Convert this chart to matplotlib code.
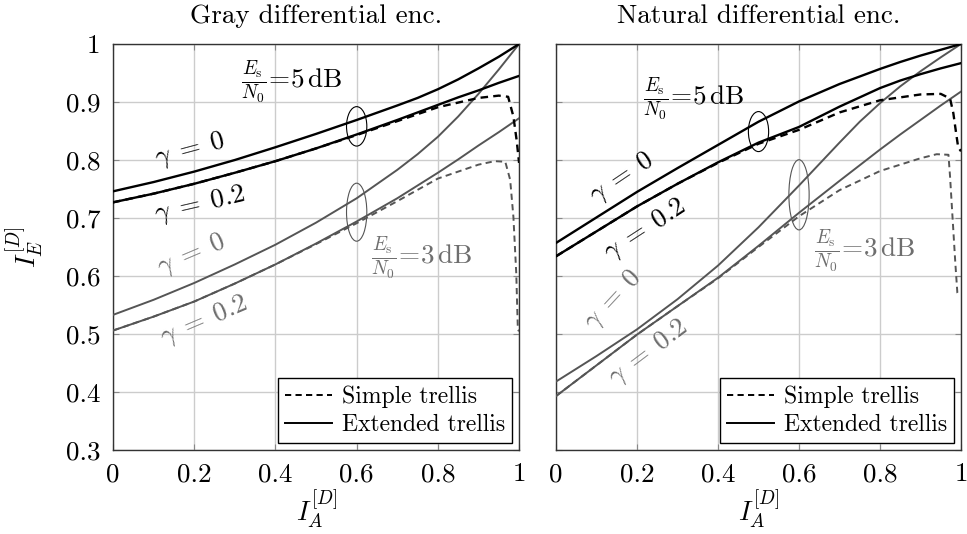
import matplotlib
matplotlib.use("Agg")
import matplotlib.pyplot as plt
from matplotlib.lines import Line2D
from matplotlib.patches import Ellipse

plt.rcParams['font.family'] = 'serif'
plt.rcParams['font.serif'] = ['cmr10']
plt.rcParams['mathtext.fontset'] = 'cm'
plt.rcParams['axes.formatter.use_mathtext'] = True

# EXIT curves, x = I_A
x_ext = [0.0, 0.1, 0.2, 0.3, 0.4, 0.5, 0.6, 0.7, 0.75, 0.8, 0.85, 0.9, 0.95, 1.0]

# Gray differential encoding
gray_5db_g0 = [0.746, 0.762, 0.780, 0.800, 0.822, 0.845, 0.869, 0.894, 0.907, 0.922, 0.939, 0.958, 0.978, 1.0]
gray_5db_g02 = [0.727, 0.742, 0.759, 0.778, 0.798, 0.820, 0.844, 0.869, 0.882, 0.895, 0.908, 0.920, 0.933, 0.945]
gray_3db_g0 = [0.533, 0.559, 0.588, 0.620, 0.654, 0.692, 0.734, 0.783, 0.810, 0.840, 0.875, 0.914, 0.956, 1.0]
gray_3db_g02 = [0.506, 0.530, 0.556, 0.587, 0.620, 0.656, 0.694, 0.734, 0.756, 0.778, 0.801, 0.825, 0.848, 0.872]

x_simple_gray_5db = [0.0, 0.1, 0.2, 0.3, 0.4, 0.5, 0.6, 0.7, 0.8, 0.9, 0.95, 0.973, 0.986, 0.994, 1.0]
gray_5db_simple = [0.727, 0.742, 0.759, 0.778, 0.798, 0.820, 0.843, 0.867, 0.891, 0.907, 0.911, 0.909, 0.875, 0.834, 0.795]
x_simple_gray_3db = [0.0, 0.1, 0.2, 0.3, 0.4, 0.5, 0.6, 0.7, 0.8, 0.9, 0.94, 0.966, 0.978, 0.986, 0.993, 0.997, 1.0]
gray_3db_simple = [0.506, 0.530, 0.556, 0.587, 0.620, 0.655, 0.691, 0.729, 0.768, 0.792, 0.798, 0.797, 0.766, 0.702, 0.605, 0.507, 0.505]

# Natural differential encoding
nat_5db_g0 = [0.657, 0.701, 0.745, 0.786, 0.826, 0.866, 0.901, 0.931, 0.944, 0.957, 0.969, 0.980, 0.990, 1.0]
nat_5db_g02 = [0.634, 0.677, 0.720, 0.759, 0.796, 0.830, 0.857, 0.892, 0.908, 0.924, 0.937, 0.948, 0.958, 0.967]
nat_3db_g0 = [0.418, 0.462, 0.508, 0.560, 0.618, 0.684, 0.756, 0.830, 0.866, 0.898, 0.927, 0.953, 0.977, 1.0]
nat_3db_g02 = [0.393, 0.446, 0.499, 0.548, 0.597, 0.652, 0.709, 0.764, 0.791, 0.818, 0.844, 0.869, 0.894, 0.918]

x_simple_nat_5db = [0.0, 0.1, 0.2, 0.3, 0.4, 0.5, 0.6, 0.7, 0.8, 0.9, 0.95, 0.973, 0.981, 0.988, 0.993, 1.0]
nat_5db_simple = [0.634, 0.677, 0.720, 0.759, 0.795, 0.828, 0.852, 0.882, 0.903, 0.913, 0.914, 0.906, 0.881, 0.846, 0.822, 0.815]
x_simple_nat_3db = [0.0, 0.1, 0.2, 0.3, 0.4, 0.5, 0.6, 0.7, 0.8, 0.9, 0.94, 0.969, 0.973, 0.979, 0.986, 0.991, 0.995]
nat_3db_simple = [0.393, 0.446, 0.499, 0.548, 0.596, 0.650, 0.703, 0.748, 0.781, 0.803, 0.810, 0.809, 0.771, 0.702, 0.622, 0.571, 0.565]

titles = ['Gray differential enc.', 'Natural differential enc.']
xticks = [0, 0.2, 0.4, 0.6, 0.8, 1]
xticklabels = ['0', '0.2', '0.4', '0.6', '0.8', '1']
yticks = [0.3, 0.4, 0.5, 0.6, 0.7, 0.8, 0.9, 1.0]
yticklabels = ['0.3', '0.4', '0.5', '0.6', '0.7', '0.8', '0.9', '1']

black = 'black'
gray = '#555555'
gray_txt = '#6e6e6e'
dash = (3.2, 2.2)

fig = plt.figure(figsize=(9.67, 5.34), dpi=100)
ax1 = fig.add_axes([0.1169, 0.1573, 0.4199, 0.7603])
ax2 = fig.add_axes([0.5750, 0.1573, 0.4188, 0.7603])

panels = [
    (ax1, gray_5db_g0, gray_5db_g02, gray_3db_g0, gray_3db_g02,
     x_simple_gray_5db, gray_5db_simple, x_simple_gray_3db, gray_3db_simple),
    (ax2, nat_5db_g0, nat_5db_g02, nat_3db_g0, nat_3db_g02,
     x_simple_nat_5db, nat_5db_simple, x_simple_nat_3db, nat_3db_simple),
]

for i, (ax, a5, b5, a3, b3, xs5, s5, xs3, s3) in enumerate(panels):
    ax.plot(x_ext, a3, color=gray, lw=1.4, zorder=3)
    ax.plot(x_ext, b3, color=gray, lw=1.4, zorder=3)
    ax.plot(xs3, s3, color=gray, lw=1.4, dashes=dash, zorder=3)
    ax.plot(x_ext, a5, color=black, lw=1.7, zorder=4)
    ax.plot(x_ext, b5, color=black, lw=1.7, zorder=4)
    ax.plot(xs5, s5, color=black, lw=1.7, dashes=dash, zorder=4)

    ax.set_xlim(0, 1)
    ax.set_ylim(0.3, 1.0)
    ax.set_xticks(xticks)
    ax.set_xticklabels(xticklabels)
    ax.set_yticks(yticks)
    if i == 0:
        ax.set_yticklabels(yticklabels)
    else:
        ax.set_yticklabels([])
    ax.tick_params(direction='in', length=4, width=0.8, color='#888888',
                   labelsize=19.5, top=True, right=True)
    ax.tick_params(axis='x', pad=9)
    ax.tick_params(axis='y', pad=9)
    ax.grid(True, color='#cccccc', lw=1.0)
    ax.set_axisbelow(True)
    for sp in ax.spines.values():
        sp.set_color('#333333')
        sp.set_linewidth(1.0)
    ax.set_title(titles[i], fontsize=19.5, pad=15)
    ax.set_xlabel(r'$I_A^{[D]}$', fontsize=19.5)
    ax.xaxis.set_label_coords(0.5, -0.095)

    handles = [Line2D([], [], color=black, lw=1.4, dashes=(3.2, 2.2)),
               Line2D([], [], color=black, lw=1.4)]
    leg = ax.legend(handles, ['Simple trellis', 'Extended trellis'],
                    loc='lower right', bbox_to_anchor=(1 - 7 / 406, 7 / 406),
                    borderaxespad=0, fontsize=17, fancybox=False,
                    framealpha=1, edgecolor='black', handlelength=2.0,
                    handletextpad=0.4, borderpad=0.3, labelspacing=0.25)
    leg.get_frame().set_linewidth(1.0)
    leg.set_zorder(10)

ax1.set_ylabel(r'$I_E^{[D]}$', fontsize=19.5)
ax1.yaxis.set_label_coords(-0.165, 0.5)

frac5 = r'$\frac{E_{\rm s}}{N_0}\!=\!5\,{\rm dB}$'
frac3 = r'$\frac{E_{\rm s}}{N_0}\!=\!3\,{\rm dB}$'
g0 = r'$\gamma\;=\;0$'
g02 = r'$\gamma\;=\;0.2$'
txt = dict(ha='center', va='center', rotation_mode='anchor', fontsize=19.5)

# Gray panel annotations
ax1.add_patch(Ellipse((0.6, 0.858), 0.05, 0.068, fill=False, ec=black, lw=0.8, zorder=5))
ax1.add_patch(Ellipse((0.6, 0.710), 0.05, 0.100, fill=False, ec=gray, lw=0.8, zorder=5))
ax1.text(0.44, 0.935, frac5, color=black, **txt)
ax1.text(0.76, 0.631, frac3, color=gray_txt, **txt)
ax1.text(0.19, 0.817, g0, color=black, rotation=15, **txt)
ax1.text(0.215, 0.723, g02, color=black, rotation=13, **txt)
ax1.text(0.193, 0.636, g0, color=gray_txt, rotation=23, **txt)
ax1.text(0.226, 0.522, g02, color=gray_txt, rotation=23, **txt)

# Natural panel annotations
ax2.add_patch(Ellipse((0.5, 0.849), 0.05, 0.069, fill=False, ec=black, lw=0.8, zorder=5))
ax2.add_patch(Ellipse((0.6, 0.740), 0.05, 0.121, fill=False, ec=gray, lw=0.8, zorder=5))
ax2.text(0.34, 0.906, frac5, color=black, **txt)
ax2.text(0.761, 0.644, frac3, color=gray_txt, **txt)
ax2.text(0.163, 0.769, g0, color=black, rotation=34, **txt)
ax2.text(0.22, 0.68, g02, color=black, rotation=33, **txt)
ax2.text(0.142, 0.559, g0, color=gray_txt, rotation=47, **txt)
ax2.text(0.23, 0.467, g02, color=gray_txt, rotation=37, **txt)

fig.savefig('out.png', dpi=100)
